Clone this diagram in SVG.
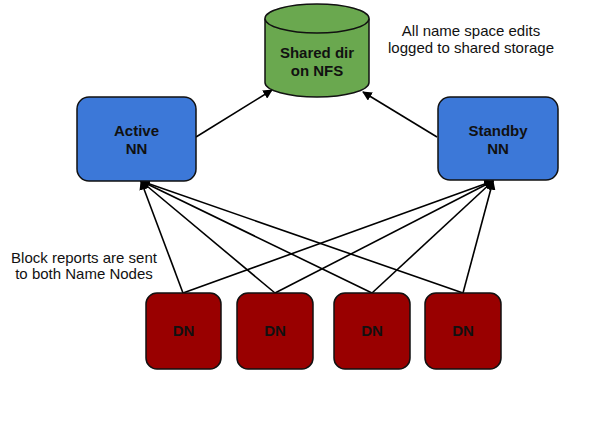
<svg xmlns="http://www.w3.org/2000/svg" width="608" height="425" viewBox="0 0 608 425">
<defs>
<style>
.lbl{font-family:"Liberation Sans",Arial,sans-serif;font-size:15px;font-weight:bold;fill:#111;text-anchor:middle}
.note{font-family:"Liberation Sans",Arial,sans-serif;font-size:15px;fill:#111;text-anchor:middle}
.nn{fill:#3c78d8;stroke:#111;stroke-width:1.5}
.dn{fill:#990000;stroke:#111;stroke-width:1.5}
.cyl{fill:#6aa84f;stroke:#111;stroke-width:1.5}
.ln{stroke:#000;stroke-width:1.6;fill:none;marker-end:url(#ah)}
</style>
<marker id="ah" viewBox="0 0 10 10" refX="9" refY="5" markerWidth="6" markerHeight="6" orient="auto" markerUnits="strokeWidth">
<path d="M0,0 L10,5 L0,10 z" fill="#000"/>
</marker>
</defs>
<rect width="608" height="425" fill="#fff"/>
<g id="connectors">
<line class="ln" x1="196" y1="137" x2="272" y2="90"/>
<line class="ln" x1="437" y1="137" x2="363" y2="92"/>
<line class="ln" x1="183" y1="293" x2="141" y2="181"/>
<line class="ln" x1="275" y1="293" x2="141" y2="181"/>
<line class="ln" x1="372" y1="293" x2="141" y2="181"/>
<line class="ln" x1="463" y1="293" x2="141" y2="181"/>
<line class="ln" x1="183" y1="293" x2="493" y2="181"/>
<line class="ln" x1="275" y1="293" x2="493" y2="181"/>
<line class="ln" x1="372" y1="293" x2="493" y2="181"/>
<line class="ln" x1="463" y1="293" x2="493" y2="181"/>
</g>
<g id="shared">
<path class="cyl" d="M265,18.5 L265,82.5 A52,14.5 0 0 0 369,82.5 L369,18.5"/>
<ellipse class="cyl" cx="317" cy="18.5" rx="52" ry="14.5"/>
<text class="lbl" x="317" y="58">Shared dir</text>
<text class="lbl" x="317" y="76">on NFS</text>
</g>
<g id="active">
<rect class="nn" x="77" y="97" width="119" height="84" rx="12"/>
<text class="lbl" x="136.5" y="136">Active</text>
<text class="lbl" x="136.5" y="154">NN</text>
</g>
<g id="standby">
<rect class="nn" x="438" y="97" width="120" height="83" rx="12"/>
<text class="lbl" x="498" y="136">Standby</text>
<text class="lbl" x="498" y="154">NN</text>
</g>
<g id="dn1">
<rect class="dn" x="146" y="293" width="75" height="76" rx="11"/>
<text class="lbl" x="183.5" y="336">DN</text>
</g>
<g id="dn2">
<rect class="dn" x="237" y="293" width="76" height="76" rx="11"/>
<text class="lbl" x="275" y="336">DN</text>
</g>
<g id="dn3">
<rect class="dn" x="334" y="293" width="76" height="76" rx="11"/>
<text class="lbl" x="372" y="336">DN</text>
</g>
<g id="dn4">
<rect class="dn" x="425" y="293" width="76" height="76" rx="11"/>
<text class="lbl" x="463" y="336">DN</text>
</g>
<g id="notes">
<text class="note" x="471" y="36">All name space edits</text>
<text class="note" x="471" y="53">logged to shared storage</text>
<text class="note" x="84" y="263">Block reports are sent</text>
<text class="note" x="84" y="279">to both Name Nodes</text>
</g>
</svg>
